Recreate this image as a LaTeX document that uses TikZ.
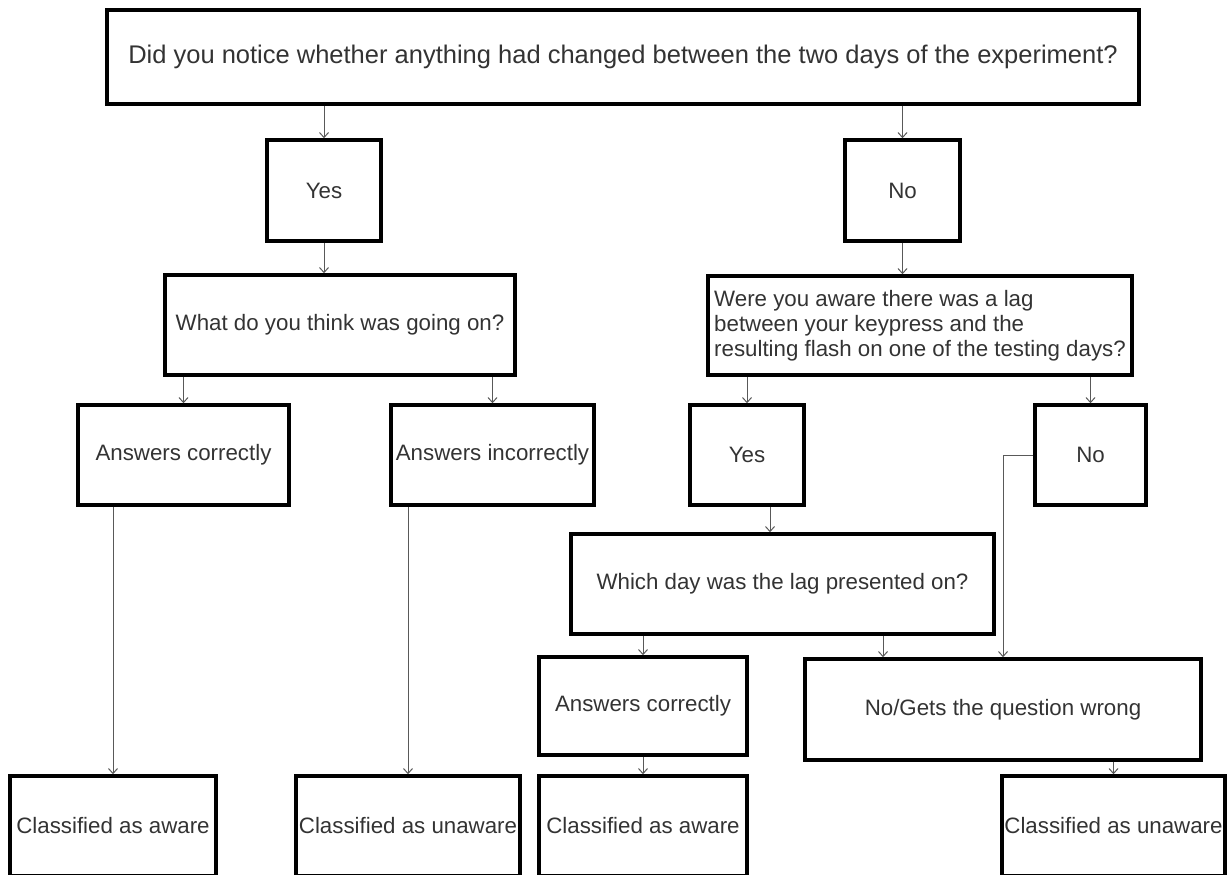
\documentclass[tikz,border=0pt]{standalone}
\usepackage{fontspec}
\setmainfont{Liberation Sans}
\usetikzlibrary{arrows.meta}
\begin{document}
\begin{tikzpicture}[x=1pt,y=-1pt,
  box/.style={draw,line width=3.5pt,inner sep=0pt,text=black!80,font=\fontsize{22.3pt}{25pt}\selectfont},
  conn/.style={draw=black!65,line width=1pt,-{Straight Barb[length=5pt,width=9pt]}}]
\useasboundingbox (0,0) rectangle (1231,875);
\node [box,minimum width=1032pt,minimum height=94pt,font=\fontsize{25.5pt}{28pt}\selectfont] (q1) at (623,57) {Did you notice whether anything had changed between the two days of the experiment?};
\node [box,minimum width=114pt,minimum height=101pt] (yes1) at (324,190.5) {Yes};
\node [box,minimum width=115pt,minimum height=101pt] (no1) at (902.5,190.5) {No};
\node [box,minimum width=350pt,minimum height=100pt] (q2) at (340,325) {What do you think was going on?};
\node [box,minimum width=424pt,minimum height=99pt,align=left] (q3) at (920,325.5) {Were you aware there was a lag\\between your keypress and the\\resulting flash on one of the testing days?};
\node [box,minimum width=211pt,minimum height=100pt] (ac1) at (183.5,455) {Answers correctly};
\node [box,minimum width=203pt,minimum height=100pt] (ai1) at (492.5,455) {Answers incorrectly};
\node [box,minimum width=114pt,minimum height=100pt] (yes2) at (747,455) {Yes};
\node [box,minimum width=111pt,minimum height=100pt] (no2) at (1090.5,455) {No};
\node [box,minimum width=423pt,minimum height=100pt] (q4) at (782.5,584) {Which day was the lag presented on?};
\node [box,minimum width=208pt,minimum height=98pt] (ac2) at (643,706) {Answers correctly};
\node [box,minimum width=396pt,minimum height=101pt] (wrong) at (1003,709.5) {No/Gets the question wrong};
\node [box,minimum width=206pt,minimum height=100pt] (aw1) at (113,826) {Classified as aware};
\node [box,minimum width=224pt,minimum height=100pt] (un1) at (408,826) {Classified as unaware};
\node [box,minimum width=208pt,minimum height=100pt] (aw2) at (643,826) {Classified as aware};
\node [box,minimum width=223pt,minimum height=100pt] (un2) at (1113.5,826) {Classified as unaware};
\coordinate (c1) at ([xshift=23pt]yes2.south);
\coordinate (c2) at ([xshift=-120pt]wrong.north);
\draw [conn] (q1.south -| yes1.north) -- (yes1.north);
\draw [conn] (q1.south -| no1.north) -- (no1.north);
\draw [conn] (yes1.south) -- (yes1.south |- q2.north);
\draw [conn] (no1.south) -- (no1.south |- q3.north);
\draw [conn] (q2.south -| ac1.north) -- (ac1.north);
\draw [conn] (q2.south -| ai1.north) -- (ai1.north);
\draw [conn] (q3.south -| yes2.north) -- (yes2.north);
\draw [conn] (q3.south -| no2.north) -- (no2.north);
\draw [conn] (c1) -- (c1 |- q4.north);
\draw [conn] (q4.south -| ac2.north) -- (ac2.north);
\draw [conn] (q4.south -| c2) -- (c2);
\draw [conn] (no2.west) -| (wrong.north);
\draw [conn] (ac1.south -| aw1.north) -- (aw1.north);
\draw [conn] (ai1.south -| un1.north) -- (un1.north);
\draw [conn] (ac2.south) -- (aw2.north);
\draw [conn] (wrong.south -| un2.north) -- (un2.north);
\end{tikzpicture}
\end{document}
